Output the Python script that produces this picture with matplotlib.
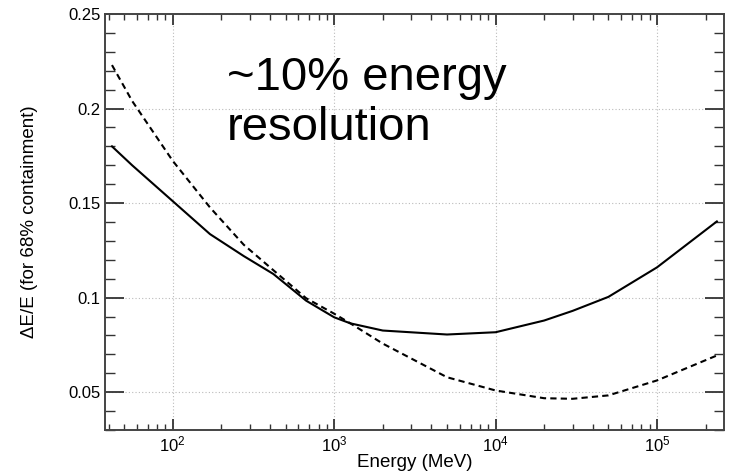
import matplotlib
matplotlib.use("Agg")
import matplotlib.pyplot as plt
from matplotlib.ticker import MultipleLocator, LogLocator

plt.rcParams["font.family"] = ["Liberation Sans", "DejaVu Sans"]
plt.rcParams["mathtext.fontset"] = "custom"
plt.rcParams["mathtext.rm"] = "Liberation Sans"
plt.rcParams["mathtext.it"] = "Liberation Sans:italic"

# energies in MeV
energy = [42, 56, 100, 170, 275, 420, 670, 1000, 1260, 2000, 5000,
          10000, 20000, 30000, 50000, 100000, 235000]
# solid curve
res_solid = [0.180, 0.170, 0.151, 0.1336, 0.122, 0.1125, 0.0984, 0.0896,
             0.0864, 0.0826, 0.0805, 0.0817, 0.0879, 0.093, 0.1004, 0.116,
             0.1403]
# dashed curve
res_dashed = [0.223, 0.204, 0.1723, 0.1477, 0.128, 0.1145, 0.0997, 0.0915,
              0.0864, 0.0757, 0.0579, 0.0509, 0.0468, 0.0465, 0.0483, 0.0562,
              0.0694]

fig = plt.figure(figsize=(7.32, 4.72), dpi=100)
ax = fig.add_axes([0.1434, 0.089, 0.8456, 0.8813])

ax.plot(energy, res_solid, color="black", linewidth=1.5)
ax.plot(energy, res_dashed, color="black", linewidth=1.5, linestyle=(0, (3, 2)))

ax.set_xscale("log")
ax.set_xlim(38, 2.6e5)
ax.set_ylim(0.03, 0.25)

ax.yaxis.set_major_locator(MultipleLocator(0.05))
ax.yaxis.set_minor_locator(MultipleLocator(0.01))
ax.set_yticks([0.05, 0.1, 0.15, 0.2, 0.25])
ax.set_yticklabels(["0.05", "0.1", "0.15", "0.2", "0.25"])
ax.xaxis.set_major_locator(LogLocator(base=10))
ax.xaxis.set_minor_locator(LogLocator(base=10, subs=range(2, 10)))

ax.tick_params(axis="both", which="both", direction="in", top=True,
               right=True, colors="#333333", labelcolor="black", labelsize=12)
ax.tick_params(axis="y", which="major", length=14, width=1.3, pad=3)
ax.tick_params(axis="y", which="minor", length=7, width=1.0)
ax.tick_params(axis="x", which="major", length=8, width=1.3, pad=3)
ax.tick_params(axis="x", which="minor", length=4, width=1.0)

ax.grid(True, which="major", color="#bbbbbb", linestyle=(0, (1, 2)),
        linewidth=0.8)
for s in ax.spines.values():
    s.set_color("#444444")
    s.set_linewidth(1.4)

ax.set_xlabel("Energy (MeV)", fontsize=13.5, labelpad=0)
ax.set_ylabel("ΔE/E (for 68% containment)", fontsize=13.5, labelpad=22)

ax.text(0.197, 0.90, "~10% energy\nresolution", transform=ax.transAxes,
        fontsize=34, va="top", ha="left", linespacing=1.2)

fig.savefig("out.png", dpi=100)
